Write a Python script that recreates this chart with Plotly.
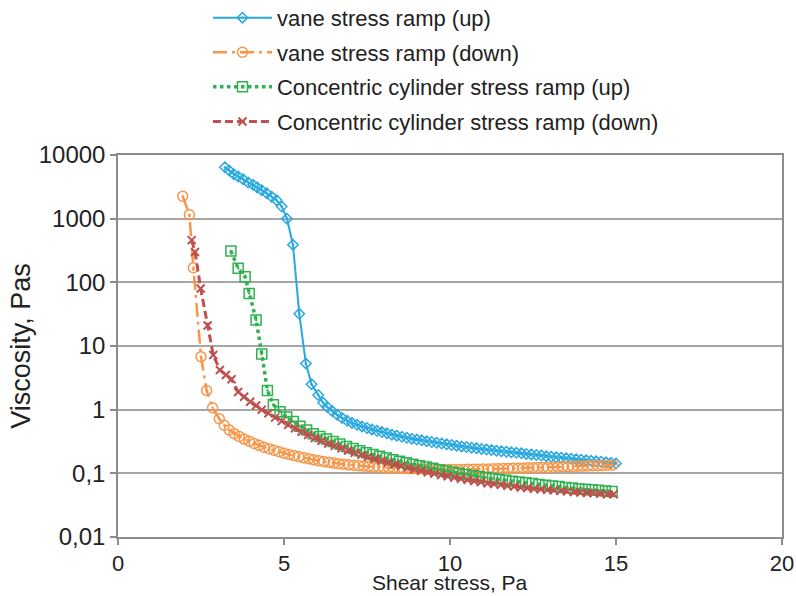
import plotly.graph_objects as go

# ---------------- data ----------------
vane_up_x = [3.22, 3.35, 3.49, 3.62, 3.77, 3.92, 4.07, 4.19, 4.33, 4.48, 4.63, 4.78, 4.93,
             5.09, 5.27, 5.46, 5.66, 5.83, 6.03, 6.18,
             6.30, 6.45, 6.60, 6.75, 6.90, 7.05, 7.20, 7.35, 7.50, 7.65, 7.80, 7.95, 8.10, 8.25,
             8.40, 8.55, 8.70, 8.85, 9.00, 9.15, 9.30, 9.45, 9.60, 9.75, 9.90, 10.05, 10.20,
             10.35, 10.50, 10.65, 10.80, 10.95, 11.10, 11.25, 11.40, 11.55, 11.70, 11.85, 12.00,
             12.15, 12.30, 12.45, 12.60, 12.75, 12.90, 13.05, 13.20, 13.35, 13.50, 13.65, 13.80,
             13.95, 14.10, 14.25, 14.40, 14.55, 14.70, 14.85, 15.00]
vane_up_y = [6400, 5700, 5000, 4600, 4150, 3700, 3400, 3100, 2800, 2500, 2200, 1950, 1550,
             1000, 390, 32, 5.3, 2.5, 1.7, 1.28,
             1.10, 0.95, 0.83, 0.74, 0.67, 0.62, 0.58, 0.545, 0.515, 0.49, 0.465, 0.445, 0.425, 0.405,
             0.39, 0.375, 0.362, 0.35, 0.34, 0.33, 0.32, 0.311, 0.302, 0.294, 0.286, 0.279, 0.272,
             0.265, 0.259, 0.253, 0.247, 0.242, 0.237, 0.232, 0.227, 0.222, 0.218, 0.214, 0.21,
             0.206, 0.202, 0.198, 0.194, 0.19, 0.186, 0.182, 0.179, 0.176, 0.173, 0.17, 0.167,
             0.164, 0.161, 0.158, 0.155, 0.152, 0.149, 0.146, 0.143]

vane_down_x = [1.95, 2.15, 2.27, 2.50, 2.67, 2.85,
               3.05, 3.20, 3.35, 3.50, 3.65, 3.80, 3.95, 4.10, 4.25, 4.40, 4.55, 4.70, 4.85, 5.00,
               5.15, 5.30, 5.45, 5.60, 5.75, 5.90, 6.05, 6.20, 6.35, 6.50, 6.65, 6.80, 6.95, 7.10,
               7.25, 7.40, 7.55, 7.70, 7.85, 8.00, 8.15, 8.30, 8.45, 8.60, 8.75, 8.90, 9.05, 9.20,
               9.35, 9.50, 9.65, 9.80, 9.95, 10.10, 10.25, 10.40, 10.55, 10.70, 10.85, 11.00, 11.15,
               11.30, 11.45, 11.60, 11.75, 11.90, 12.05, 12.20, 12.35, 12.50, 12.65, 12.80, 12.95,
               13.10, 13.25, 13.40, 13.55, 13.70, 13.85, 14.00, 14.15, 14.30, 14.45, 14.60, 14.75,
               14.90]
vane_down_y = [2250, 1150, 170, 6.8, 2.0, 1.07,
               0.72, 0.57, 0.48, 0.42, 0.38, 0.345, 0.32, 0.295, 0.275, 0.258, 0.243, 0.23, 0.218, 0.207,
               0.198, 0.19, 0.182, 0.175, 0.169, 0.163, 0.158, 0.153, 0.149, 0.145, 0.142, 0.139, 0.136, 0.134,
               0.132, 0.13, 0.128, 0.126, 0.125, 0.123, 0.122, 0.121, 0.12, 0.119, 0.118, 0.118, 0.117, 0.117,
               0.116, 0.116, 0.116, 0.115, 0.115, 0.115, 0.115, 0.115, 0.116, 0.116, 0.116, 0.117, 0.117,
               0.118, 0.118, 0.119, 0.119, 0.12, 0.12, 0.121, 0.122, 0.122, 0.123, 0.124, 0.124,
               0.125, 0.126, 0.127, 0.127, 0.128, 0.129, 0.13, 0.131, 0.132, 0.132, 0.133, 0.134,
               0.135]

cc_up_x = [3.40, 3.62, 3.83, 3.95, 4.16, 4.33, 4.50, 4.68, 4.88, 5.08, 5.28, 5.48, 5.68, 5.88,
           6.08, 6.28, 6.48, 6.68, 6.88, 7.08, 7.28, 7.48, 7.68, 7.88, 8.08, 8.28, 8.48, 8.68,
           8.88, 9.08, 9.28, 9.48, 9.68, 9.88, 10.08, 10.28, 10.48, 10.68, 10.88, 11.08, 11.28,
           11.48, 11.68, 11.88, 12.08, 12.28, 12.48, 12.68, 12.88, 13.08, 13.28, 13.48, 13.68,
           13.88, 14.08, 14.28, 14.48, 14.68, 14.88]
cc_up_y = [310, 166, 122, 67, 25.6, 7.5, 2.0, 1.2, 0.93, 0.77, 0.65, 0.55, 0.48, 0.42,
           0.38, 0.345, 0.315, 0.29, 0.265, 0.245, 0.227, 0.211, 0.197, 0.185, 0.174, 0.164, 0.155, 0.147,
           0.139, 0.132, 0.126, 0.12, 0.114, 0.109, 0.104, 0.1, 0.096, 0.092, 0.089, 0.086, 0.083,
           0.08, 0.078, 0.075, 0.073, 0.071, 0.069, 0.067, 0.065, 0.063, 0.062, 0.06, 0.059,
           0.057, 0.056, 0.055, 0.054, 0.053, 0.052]

cc_down_x = [2.22, 2.32, 2.49, 2.70, 2.87, 3.07, 3.25, 3.42, 3.62, 3.80, 3.98, 4.16, 4.33, 4.53,
             4.73, 4.93, 5.13, 5.33, 5.53, 5.73, 5.93, 6.13, 6.33, 6.53, 6.73, 6.93, 7.13, 7.33,
             7.53, 7.73, 7.93, 8.13, 8.33, 8.53, 8.73, 8.93, 9.13, 9.33, 9.53, 9.73, 9.93, 10.13,
             10.33, 10.53, 10.73, 10.93, 11.13, 11.33, 11.53, 11.73, 11.93, 12.13, 12.33, 12.53,
             12.73, 12.93, 13.13, 13.33, 13.53, 13.73, 13.93, 14.13, 14.33, 14.53, 14.73, 14.93]
cc_down_y = [460, 300, 80, 21, 7.2, 4.2, 3.5, 3.0, 1.9, 1.6, 1.33, 1.16, 1.0, 0.88,
             0.75, 0.66, 0.58, 0.51, 0.45, 0.40, 0.36, 0.325, 0.295, 0.27, 0.248, 0.228, 0.21, 0.195,
             0.181, 0.169, 0.158, 0.148, 0.139, 0.131, 0.123, 0.116, 0.11, 0.104, 0.099, 0.094, 0.09, 0.086,
             0.082, 0.079, 0.076, 0.073, 0.07, 0.068, 0.066, 0.064, 0.062, 0.06, 0.059, 0.057,
             0.056, 0.055, 0.054, 0.053, 0.052, 0.051, 0.05, 0.049, 0.049, 0.048, 0.047, 0.047]

series_names = ["vane stress ramp (up)", "vane stress ramp (down)",
                "Concentric cylinder stress ramp (up)", "Concentric cylinder stress ramp (down)"]

x_title = "Shear stress, Pa"
y_title = "Viscosity, Pas"
y_tick_vals = [0.01, 0.1, 1, 10, 100, 1000, 10000]
y_tick_text = ["0,01", "0,1", "1", "10", "100", "1000", "10000"]
x_tick_vals = [0, 5, 10, 15, 20]

# ---------------- styles ----------------
BLUE = "#2aa9e0"
ORANGE = "#f7964a"
GREEN = "#2fb24f"
RED = "#c0504d"
FONT = "Liberation Sans, Arial, sans-serif"
TXT = "#222222"

fig = go.Figure()
fig.add_trace(go.Scatter(
    x=vane_up_x, y=vane_up_y, name=series_names[0], mode="lines+markers", legendgroup="a",
    line=dict(color=BLUE, width=2),
    marker=dict(symbol="diamond-open-dot", size=8, color=BLUE, line=dict(width=1.5, color=BLUE))))
fig.add_trace(go.Scatter(
    x=vane_down_x, y=vane_down_y, name=series_names[1], mode="lines+markers", legendgroup="b",
    line=dict(color=ORANGE, width=2.5, dash="14px,5px,3px,5px"),
    marker=dict(symbol="circle-open-dot", size=10, color=ORANGE, line=dict(width=1.5, color=ORANGE))))
fig.add_trace(go.Scatter(
    x=cc_up_x, y=cc_up_y, name=series_names[2], mode="lines+markers", legendgroup="c",
    line=dict(color=GREEN, width=3.5, dash="dot"),
    marker=dict(symbol="square-open-dot", size=10, color=GREEN, line=dict(width=1.5, color=GREEN))))
fig.add_trace(go.Scatter(
    x=cc_down_x, y=cc_down_y, name=series_names[3], mode="lines+markers", legendgroup="d",
    line=dict(color=RED, width=3, dash="8px,4px"),
    marker=dict(symbol="x-thin", size=8, color=RED, line=dict(width=2, color=RED))))

axis_common = dict(
    showline=True, linecolor="#8c8c8c", linewidth=1.5, mirror=True,
    ticks="outside", ticklen=6, tickcolor="#8c8c8c", tickwidth=1.5,
    zeroline=False, automargin=False,
)

fig.update_layout(
    width=796, height=596,
    margin=dict(l=118, r=14, t=155, b=59, autoexpand=False),
    paper_bgcolor="white", plot_bgcolor="white",
    font=dict(family=FONT, color=TXT),
    showlegend=True,
    legend=dict(
        x=0.1355, y=1.414, xanchor="left", yanchor="top",
        font=dict(family=FONT, size=22, color=TXT),
        tracegroupgap=3, bgcolor="rgba(0,0,0,0)", itemwidth=59,
    ),
    xaxis=dict(
        range=[0, 20], tickvals=x_tick_vals, showgrid=False,
        tickfont=dict(family=FONT, size=22, color=TXT),
        **axis_common,
    ),
    yaxis=dict(
        type="log", range=[-2, 4], tickvals=y_tick_vals, ticktext=y_tick_text,
        showgrid=True, gridcolor="#a6a6a6", gridwidth=1.5,
        tickfont=dict(family=FONT, size=24, color=TXT),
        title=dict(text=y_title, font=dict(family=FONT, size=27, color=TXT), standoff=0),
        **axis_common,
    ),
    annotations=[dict(
        text=x_title, xref="paper", yref="paper", x=0.5, y=-0.151,
        xanchor="center", yanchor="bottom", showarrow=False, borderpad=0,
        font=dict(family=FONT, size=21, color=TXT),
    )],
)

fig.write_html("out.html")
